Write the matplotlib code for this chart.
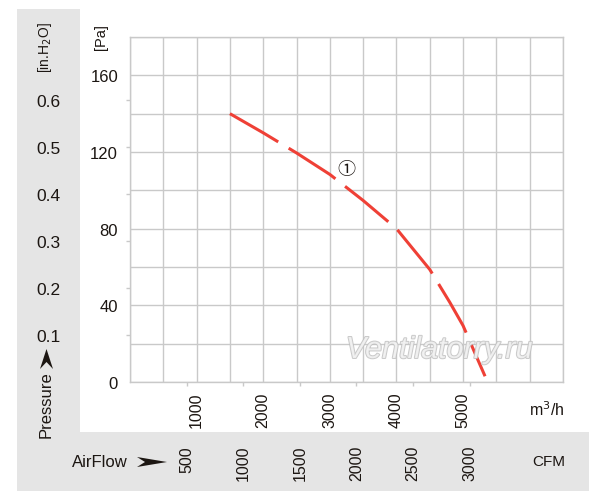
import matplotlib
matplotlib.use("Agg")
import numpy as np
import matplotlib.pyplot as plt
import matplotlib.patheffects as pe
from matplotlib.patches import Rectangle, Polygon

# Données
flow_m3h = [1500, 2000, 2500, 3000, 3500, 4000, 4500, 4800, 5000, 5200, 5330]
pressure_pa = [140, 130, 119.5, 108.3, 94.7, 80, 58.7, 41.6, 29.4, 13.3, 3]

pa_ticks = [0, 40, 80, 120, 160]
inh2o_ticks = [0.1, 0.2, 0.3, 0.4, 0.5, 0.6]
m3h_ticks = [1000, 2000, 3000, 4000, 5000]
cfm_ticks = [500, 1000, 1500, 2000, 2500, 3000]

PA_PER_INH2O = 245.0
M3H_PER_CFM = 1.699

W, H = 600, 502
TXT = "#1c1612"
GRID = "#c9c9c9"
PANEL = "#e5e5e5"
RED = "#ef4036"
ARIAL = ["Liberation Sans", "DejaVu Sans"]


def fx(px):
    return px / W


def fy(py):
    return 1 - py / H


fig = plt.figure(figsize=(6, 5.02), dpi=100)

# panneau gris en L
fig.add_artist(Rectangle((fx(17), fy(492)), fx(80) - fx(17), fy(10) - fy(492),
                         transform=fig.transFigure, color=PANEL, lw=0, zorder=-5))
fig.add_artist(Rectangle((fx(17), fy(492)), fx(589) - fx(17), fy(433) - fy(492),
                         transform=fig.transFigure, color=PANEL, lw=0, zorder=-5))

ax = fig.add_axes([fx(130), fy(383), 433 / W, 345 / H])
ax.set_xlim(0, 6500)
ax.set_ylim(0, 180)

# grille (les ticks mineurs ne doivent pas être retirés sous les majeurs)
ax.xaxis.remove_overlapping_locs = False
ax.yaxis.remove_overlapping_locs = False
ax.set_xticks(np.arange(0, 6501, 500), minor=True)
ax.set_yticks(np.arange(0, 181, 20), minor=True)
ax.grid(which="minor", color=GRID, lw=1.0)
ax.grid(which="major", visible=False)
ax.tick_params(which="minor", length=0)
for s in ax.spines.values():
    s.set_color(GRID)
    s.set_linewidth(1.0)

# ticks CFM sur l'axe principal, sans étiquettes
ax.set_xticks([c * M3H_PER_CFM for c in cfm_ticks])
ax.set_xticklabels([])
ax.tick_params(axis="x", which="major", length=3, color=GRID, width=1)

# étiquettes Pa
ax.set_yticks(pa_ticks)
ax.set_yticklabels([str(v) for v in pa_ticks], family=ARIAL, fontsize=12, color=TXT)
ax.tick_params(axis="y", which="major", length=0, pad=8.6)

# m3/h
sx = ax.secondary_xaxis("bottom")
sx.set_xticks(m3h_ticks)
sx.set_xticklabels([str(v) for v in m3h_ticks], family=ARIAL, fontsize=11.5,
                   rotation=90, color=TXT)
sx.tick_params(length=0, pad=7)
sx.spines["bottom"].set_visible(False)

# CFM
sc = ax.secondary_xaxis(-0.1745, functions=(lambda q: q / M3H_PER_CFM,
                                            lambda c: c * M3H_PER_CFM))
sc.set_xticks(cfm_ticks)
sc.set_xticklabels([str(v) for v in cfm_ticks], family=ARIAL, fontsize=11.5,
                   rotation=90, color=TXT)
sc.tick_params(length=0, pad=2)
sc.spines["bottom"].set_visible(False)

# in.H2O
si = ax.secondary_yaxis(0, functions=(lambda p: p / PA_PER_INH2O,
                                      lambda i: i * PA_PER_INH2O))
si.set_yticks(inh2o_ticks)
si.set_yticklabels([str(v) for v in inh2o_ticks], family=ARIAL, fontsize=12.5,
                   color=TXT)
si.tick_params(length=3, color=GRID, width=1, pad=46.8)
si.spines["left"].set_visible(False)

# courbe
ax.plot(flow_m3h, pressure_pa, color=RED, lw=2.2, linestyle=(0, (18.3, 4.0)),
        solid_capstyle="butt", zorder=3)
ax.text(3253, 111, "\u2460", family=["Noto Sans CJK JP", "DejaVu Sans"],
        fontsize=13, ha="center", va="center", color=TXT, zorder=4)

# filigrane
ax.text(4640, 16.7, "Ventilatorry.ru", family=ARIAL, style="italic", fontsize=22,
        ha="center", va="center", color="#f4f4f4", alpha=0.85, zorder=5,
        path_effects=[pe.withStroke(linewidth=1.4, foreground="#c0c0c0")])

# textes
fig.text(fx(45), fy(48), "[in.H$_2$O]", family=ARIAL, fontsize=10, rotation=90,
         ha="center", va="center", color=TXT)
fig.text(fx(101), fy(37), "[Pa]", family=ARIAL, fontsize=10.5, rotation=90,
         ha="center", va="center", color=TXT)
fig.text(fx(46), fy(405), "Pressure", family=ARIAL, fontsize=12, rotation=90,
         ha="center", va="center", color=TXT)
fig.text(fx(100), fy(463), "AirFlow", family=ARIAL, fontsize=12,
         ha="center", va="center", color=TXT)
fig.text(fx(549), fy(462), "CFM", family=ARIAL, fontsize=11,
         ha="center", va="center", color=TXT)
fig.text(fx(547), fy(410), "m$^3$/h", family=ARIAL, fontsize=11.5,
         ha="center", va="center", color=TXT)

# flèches
fig.add_artist(Polygon([(fx(137), fy(458)), (fx(167), fy(463)), (fx(137), fy(468)),
                        (fx(145), fy(463))], closed=True, transform=fig.transFigure,
                       color=TXT, lw=0))
fig.add_artist(Polygon([(fx(46.5), fy(350)), (fx(53), fy(370)), (fx(46.5), fy(363)),
                        (fx(40), fy(370))], closed=True, transform=fig.transFigure,
                       color=TXT, lw=0))

fig.savefig("out.png", dpi=100)
